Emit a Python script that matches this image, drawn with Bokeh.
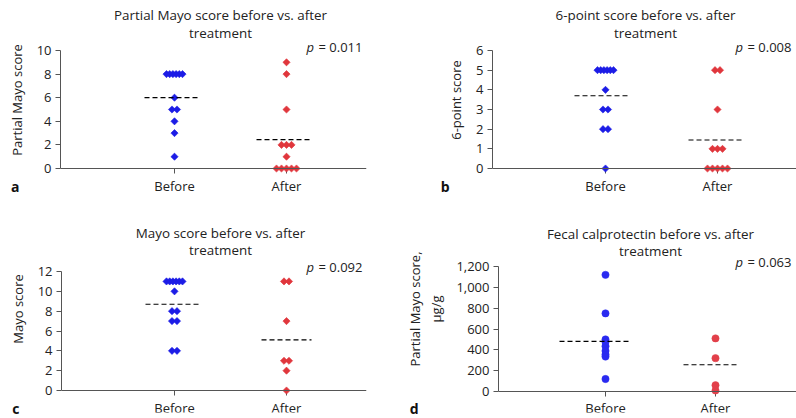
import numpy as np
from bokeh.plotting import figure
from bokeh.layouts import column, row
from bokeh.models import (Range1d, FixedTicker, Label, NumeralTickFormatter, ColumnDataSource,
                          LinearAxis)
from bokeh.core.properties import value
from bokeh.embed import file_html
from bokeh.resources import INLINE

# ---------------- data ----------------
categories = ["Before", "After"]

a_before = [8, 8, 8, 8, 8, 8, 6, 5, 5, 4, 3, 1]
a_after = [9, 8, 5, 2, 2, 2, 1, 0, 0, 0, 0, 0]
a_means = [6.0, 2.45]

b_before = [5, 5, 5, 5, 5, 5, 4, 3, 3, 2, 2, 0]
b_after = [5, 5, 3, 1, 1, 1, 0, 0, 0, 0, 0]
b_means = [3.7, 1.45]

c_before = [11, 11, 11, 11, 11, 11, 10, 8, 8, 7, 7, 4, 4]
c_after = [11, 11, 7, 3, 3, 2, 0]
c_means = [8.7, 5.1]

d_before = [1120, 750, 500, 475, 435, 390, 355, 335, 120]
d_after = [510, 320, 60, 10]
d_means = [482, 257]

a_ticks = [0, 2, 4, 6, 8, 10]
b_ticks = [0, 1, 2, 3, 4, 5, 6]
c_ticks = [0, 2, 4, 6, 8, 10, 12]
d_ticks = [0, 200, 400, 600, 800, 1000, 1200]

titles = [
    ["Partial Mayo score before vs. after", "treatment"],
    ["6-point score before vs. after", "treatment"],
    ["Mayo score before vs. after", "treatment"],
    ["Fecal calprotectin before vs. after", "treatment"],
]
ylabels = ["Partial Mayo score", "6-point score", "Mayo score", "Partial Mayo score,\nμg/g"]
pvalues = ["0.011", "0.008", "0.092", "0.063"]
letters = ["a", "b", "c", "d"]

FONT = "Open Sans"
TXT = "#222222"
AX = "#555555"
BLUE = "#1c1ce6"
RED = "#e0363c"
BLUE_D = "#2a2af0"
RED_D = "#e2404a"

W = 398
H1, H2 = 205, 213
BB = 6  # bottom border under the frame


def swarm(vals, ppx):
    vals = list(vals)
    offs = [0.0] * len(vals)
    groups = {}
    for i, v in enumerate(vals):
        groups.setdefault(v, []).append(i)
    for v, idx in groups.items():
        n = len(idx)
        step = 5.0 if n <= 5 else 3.2
        for k, i in enumerate(idx):
            offs[i] = (k - (n - 1) / 2.0) * step / ppx
    return offs


def panel(before, after, means, ticks, title, ylabel, pval, letter, geom, H, marker,
          tpos, ppos, lpos, catY, lstand, mlines, fmt=None):
    L, R, T, Z, B, A = geom
    Fb = H - BB
    ymax = ticks[-1]
    ppu = (Z - T) / ymax
    ppx = A - B
    x0 = 1 - (B - L) / ppx
    x1 = 2 + (R - A) / ppx
    ye = ymax + T / ppu
    ys = -(Fb - Z) / ppu
    lt_range = Range1d(-(Fb - lpos[1]), lpos[1])
    p = figure(width=W, height=H, output_backend="svg", toolbar_location=None,
               x_range=Range1d(x0, x1), y_range=Range1d(ys, ye),
               min_border_left=L, min_border_right=W - R,
               min_border_top=0, min_border_bottom=BB)
    p.title.visible = False
    p.extra_y_ranges = {"lt": lt_range}
    p.outline_line_color = None
    p.grid.visible = False
    p.background_fill_color = "white"
    p.border_fill_color = "white"

    def X(px):
        return 1 + (px - B) / ppx

    def Y(py):
        return (Z - py) / ppu

    # y axis
    ya = p.yaxis[0]
    ya.ticker = FixedTicker(ticks=ticks)
    ya.bounds = (0, ymax)
    ya.axis_label = ylabel
    ya.axis_label_text_font = FONT
    ya.axis_label_text_font_style = "normal"
    ya.axis_label_text_font_size = "13px"
    ya.axis_label_text_color = TXT
    ya.axis_label_standoff = 8
    ya.major_label_text_font = FONT
    ya.major_label_text_font_size = "13px"
    ya.major_label_text_color = TXT
    ya.major_tick_in = 0
    ya.major_tick_out = 5
    ya.minor_tick_out = 0
    ya.minor_tick_in = 0
    ya.axis_line_color = AX
    ya.major_tick_line_color = AX
    ya.major_label_standoff = 4
    if fmt:
        ya.formatter = NumeralTickFormatter(format=fmt)

    # panel letter (outer left axis)
    la = LinearAxis(y_range_name="lt", ticker=FixedTicker(ticks=[0]),
                    major_label_overrides={0: letter},
                    axis_line_color=None, major_tick_line_color=None,
                    major_tick_in=0, major_tick_out=0, minor_tick_in=0, minor_tick_out=0,
                    major_label_standoff=lstand,
                    major_label_text_font=FONT, major_label_text_font_size="14px",
                    major_label_text_font_style="bold", major_label_text_color="#111111")
    p.add_layout(la, "left")

    # x axis line at zero
    xa = p.xaxis[0]
    xa.ticker = FixedTicker(ticks=[])
    xa.fixed_location = 0
    xa.major_tick_in = 0
    xa.major_tick_out = 0
    xa.minor_tick_out = 0
    xa.minor_tick_in = 0
    xa.major_label_standoff = 0
    xa.axis_line_color = AX

    # category tick marks and labels
    cx = [1, 2]
    p.segment(x0=cx, y0=[0, 0], x1=cx, y1=[Y(Z + 5)] * 2, line_color=AX, line_width=1)
    p.text(x=cx, y=[Y(catY)] * 2, text=categories, text_align="center", text_baseline="middle",
           text_font=value(FONT), text_font_size="13px", text_color=TXT)

    # points
    ob = swarm(before, ppx)
    oa = swarm(after, ppx)
    colors = (BLUE, RED) if marker == "diamond" else (BLUE_D, RED_D)
    for k, (vals, offs) in enumerate([(before, ob), (after, oa)]):
        src = ColumnDataSource(dict(x=[k + 1 + o for o in offs], y=vals))
        if marker == "diamond":
            p.scatter("x", "y", source=src, marker="square", angle=np.pi / 4, size=5.1,
                      fill_color=colors[k], line_color=colors[k], line_width=0.6)
        else:
            p.scatter("x", "y", source=src, marker="circle", size=7.3,
                      fill_color=colors[k], line_color=colors[k], line_width=0.5)

    # mean lines
    for k, m in enumerate(means):
        dx, hw = mlines[k]
        c = k + 1 + dx / ppx
        p.line([c - hw / ppx, c + hw / ppx], [m, m], line_color="black", line_width=1.2,
               line_dash="5 3")

    # title
    tx, ty1, ty2 = tpos
    for txt, ty in zip(title, (ty1, ty2)):
        p.add_layout(Label(x=X(tx), y=Y(ty), text=txt, text_align="center", text_baseline="middle",
                           text_font=FONT, text_font_size="13.4px", text_color=TXT))
    # p value
    px_, py_ = ppos
    p.add_layout(Label(x=X(px_), y=Y(py_), text="p", text_align="left", text_baseline="middle",
                       text_font=FONT, text_font_size="13px", text_font_style="italic",
                       text_color=TXT))
    p.add_layout(Label(x=X(px_ + 12), y=Y(py_), text="= " + pval, text_align="left",
                       text_baseline="middle", text_font=FONT, text_font_size="13px",
                       text_color=TXT))
    return p


pa = panel(a_before, a_after, a_means, a_ticks, titles[0], ylabels[0], pvalues[0], letters[0],
           (60, 366, 50, 168, 174, 286), H1, "diamond",
           (220, 14, 32), (306, 46), (12, 186), 185, -15, [(-3, 27), (-3, 27)])
pb = panel(b_before, b_after, b_means, b_ticks, titles[1], ylabels[1], pvalues[1], letters[1],
           (94, 398, 50, 168, 207, 319), H1, "diamond",
           (247, 14, 32), (337, 46), (45, 186), 185, -5, [(-4, 27), (-2, 27)])
pc = panel(c_before, c_after, c_means, c_ticks, titles[2], ylabels[2], pvalues[2], letters[2],
           (61, 366, 66, 185, 174, 286), H2, "diamond",
           (220, 27, 44), (306, 61), (12, 203), 202, -14, [(-2, 27), (0, 25)])
pd_ = panel(d_before, d_after, d_means, d_ticks, titles[3], ylabels[3], pvalues[3], letters[3],
            (100, 398, 61, 186, 207, 317), H2, "circle",
            (252, 28, 45), (337, 56), (13, 203), 202, -16, [(-10, 36), (-5, 27)], fmt="0,0")

layout = column(row(pa, pb), row(pc, pd_))
open("out.html", "w").write(file_html(layout, INLINE))
